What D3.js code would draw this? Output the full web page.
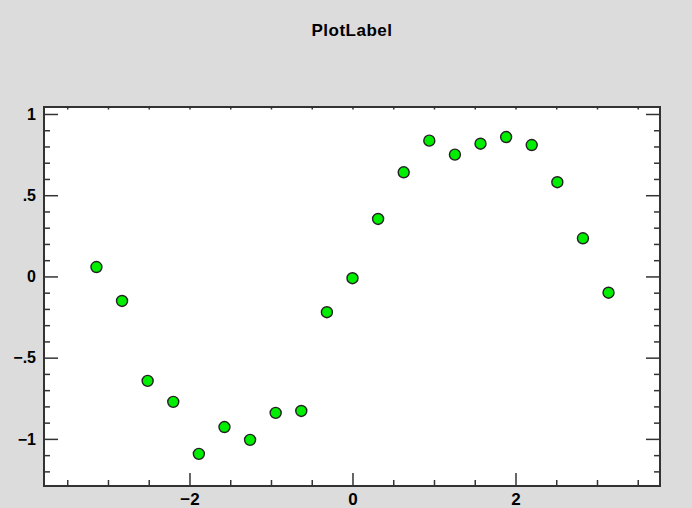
<!DOCTYPE html>
<html>
<head>
<meta charset="utf-8">
<script src="https://cdn.jsdelivr.net/npm/d3@7"></script>
<style>
  body { margin: 0; background: #dcdcdc; }
  svg { display: block; }
  text { font-family: "Liberation Sans", Arial, sans-serif; font-weight: bold; fill: #000; }
</style>
</head>
<body>
<script>
// data: 21 samples from -pi to pi
const xValues = d3.range(21).map(i => -Math.PI + i * Math.PI / 10)
const yValues = [0.058, -0.151, -0.643, -0.772, -1.092, -0.927, -1.006, -0.840, -0.828, -0.220,
                 -0.011, 0.354, 0.641, 0.836, 0.750, 0.817, 0.858, 0.809, 0.580, 0.235, -0.100]
const xTicks = [-2, 0, 2]
const xTickLabels = ['\u22122', '0', '2']
const yTicks = [-1, -0.5, 0, 0.5, 1]
const yTickLabels = ['\u22121', '\u2212.5', '0', '.5', '1']
const title = 'PlotLabel'

const width = 692, height = 508
const plotLeft = 44, plotRight = 660, plotTop = 107, plotBottom = 486

const svg = d3.select('body').append('svg')
    .attr('width', width)
    .attr('height', height)

svg.append('rect').attr('width', width).attr('height', height).attr('fill', '#dcdcdc')

const x = d3.scaleLinear().domain([-3.785, 3.773]).range([plotLeft, plotRight])
const y = d3.scaleLinear().domain([-1.29, 1.043]).range([plotBottom, plotTop])

svg.append('rect')
    .attr('x', plotLeft).attr('y', plotTop)
    .attr('width', plotRight - plotLeft).attr('height', plotBottom - plotTop)
    .attr('fill', '#fff')

const xMinor = d3.range(-3.5, 3.75, 0.5).filter(v => !xTicks.includes(v))
const yMinor = d3.range(-12, 11).map(v => v / 10).filter(v => !yTicks.some(t => Math.abs(t - v) < 1e-9))

function tickStyle(g) {
    g.select('.domain').remove()
    g.selectAll('line').attr('stroke', '#333').attr('stroke-width', 1.5)
}

// bottom: major with labels, minor without
svg.append('g').attr('transform', `translate(0,${plotBottom})`)
    .call(d3.axisBottom(x).tickValues(xTicks).tickSize(-13)
        .tickFormat((d, i) => xTickLabels[i]))
    .call(tickStyle)
    .call(g => g.selectAll('text').attr('font-size', 17).attr('fill', '#000')
        .attr('y', 19).attr('dy', 0))
svg.append('g').attr('transform', `translate(0,${plotBottom})`)
    .call(d3.axisBottom(x).tickValues(xMinor).tickSize(-6).tickFormat(''))
    .call(tickStyle)

// top: tiny ticks every .5
svg.append('g').attr('transform', `translate(0,${plotTop})`)
    .call(d3.axisTop(x).tickValues(d3.range(-3.5, 3.75, 0.5)).tickSize(-2.5).tickFormat(''))
    .call(tickStyle)

// left
svg.append('g').attr('transform', `translate(${plotLeft},0)`)
    .call(d3.axisLeft(y).tickValues(yTicks).tickSize(-14).tickPadding(8)
        .tickFormat((d, i) => yTickLabels[i]))
    .call(tickStyle)
    .call(g => g.selectAll('text').attr('font-size', 16).attr('fill', '#000'))
svg.append('g').attr('transform', `translate(${plotLeft},0)`)
    .call(d3.axisLeft(y).tickValues(yMinor).tickSize(-6).tickFormat(''))
    .call(tickStyle)

// right
svg.append('g').attr('transform', `translate(${plotRight},0)`)
    .call(d3.axisRight(y).tickValues(yTicks).tickSize(-14).tickFormat(''))
    .call(tickStyle)
svg.append('g').attr('transform', `translate(${plotRight},0)`)
    .call(d3.axisRight(y).tickValues(yMinor).tickSize(-6).tickFormat(''))
    .call(tickStyle)

// frame
svg.append('path')
    .attr('d', `M${plotLeft},${plotTop}H${plotRight}V${plotBottom}H${plotLeft}Z`)
    .attr('fill', 'none')
    .attr('stroke', '#333')
    .attr('stroke-width', 2)

svg.append('g').selectAll('circle')
    .data(xValues.map((v, i) => [v, yValues[i]]))
    .enter()
    .append('circle')
    .attr('cx', d => x(d[0]))
    .attr('cy', d => y(d[1]))
    .attr('r', 5.5)
    .attr('fill', '#00ee00')
    .attr('stroke', '#222')
    .attr('stroke-width', 1.4)

svg.append('text')
    .attr('x', 352)
    .attr('y', 36)
    .attr('text-anchor', 'middle')
    .attr('font-size', 17)
    .style('letter-spacing', '0.5px')
    .text(title)
</script>
</body>
</html>
